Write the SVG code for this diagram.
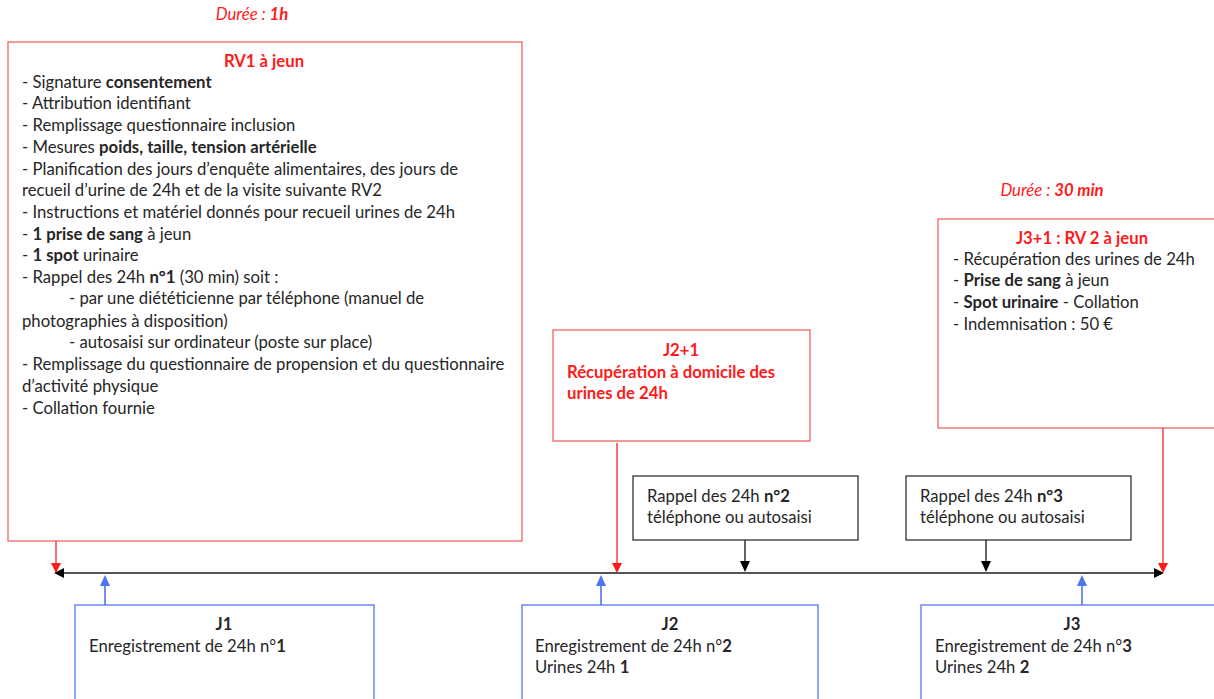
<svg xmlns="http://www.w3.org/2000/svg" width="1214" height="699" viewBox="0 0 1214 699">
<defs>
<style>
text{font-family:Lato,"Open Sans","DejaVu Sans",sans-serif;font-size:16.7px;fill:#262626}
.b{font-weight:bold}
.r{fill:#ff1a1a}
.rt{fill:#ff1a1a;font-weight:bold}
.it{font-style:italic}
.c{text-anchor:middle}
.rbox{fill:#fff;stroke:#f06464;stroke-width:1.3}
.kbox{fill:#fff;stroke:#222;stroke-width:1.2}
.bbox{fill:#fff;stroke:#5577ee;stroke-width:1.3}
.lr{stroke:#ff2020;stroke-width:1.3;fill:none}
.lk{stroke:#111;stroke-width:1.3;fill:none}
.lb{stroke:#4f74f0;stroke-width:1.6;fill:none}
</style>
</defs>

<g id="duree1"><text x="252" y="20" class="r it c">Durée : <tspan class="b">1h</tspan></text></g>

<g id="rv1">
<rect class="rbox" x="8" y="42" width="514" height="499"/>
<text x="264" y="67" class="rt c">RV1 à jeun</text>
<text x="22" y="88">- Signature <tspan class="b">consentement</tspan></text>
<text x="22" y="109">- Attribution identifiant</text>
<text x="22" y="131">- Remplissage questionnaire inclusion</text>
<text x="22" y="153">- Mesures <tspan class="b">poids, taille, tension artérielle</tspan></text>
<text x="22" y="175">- Planification des jours d’enquête alimentaires, des jours de</text>
<text x="22" y="196">recueil d’urine de 24h et de la visite suivante RV2</text>
<text x="22" y="218">- Instructions et matériel donnés pour recueil urines de 24h</text>
<text x="22" y="240">- <tspan class="b">1 prise de sang</tspan> à jeun</text>
<text x="22" y="261">- <tspan class="b">1 spot</tspan> urinaire</text>
<text x="22" y="283">- Rappel des 24h <tspan class="b">n°1</tspan> (30 min) soit :</text>
<text x="69" y="304">- par une diététicienne par téléphone (manuel de</text>
<text x="22" y="327">photographies à disposition)</text>
<text x="69" y="348">- autosaisi sur ordinateur (poste sur place)</text>
<text x="22" y="370">- Remplissage du questionnaire de propension et du questionnaire</text>
<text x="22" y="392">d’activité physique</text>
<text x="22" y="414">- Collation fournie</text>
</g>

<g id="j2p1">
<rect class="rbox" x="553" y="330" width="257" height="111"/>
<text x="681" y="356" class="rt c">J2+1</text>
<text x="567" y="378" class="rt">Récupération à domicile des</text>
<text x="567" y="399" class="rt">urines de 24h</text>
</g>

<g id="rappel2">
<rect class="kbox" x="633" y="476" width="225" height="64"/>
<text x="647" y="502">Rappel des 24h <tspan class="b">n°2</tspan></text>
<text x="647" y="523">téléphone ou autosaisi</text>
</g>

<g id="rappel3">
<rect class="kbox" x="906" y="476" width="225" height="64"/>
<text x="920" y="502">Rappel des 24h <tspan class="b">n°3</tspan></text>
<text x="920" y="523">téléphone ou autosaisi</text>
</g>

<g id="duree30"><text x="1052" y="196" class="r it c">Durée : <tspan class="b">30 min</tspan></text></g>

<g id="rv2">
<rect class="rbox" x="938" y="219" width="290" height="209"/>
<text x="1082" y="244" class="rt c">J3+1 : RV 2 à jeun</text>
<text x="953" y="265">- Récupération des urines de 24h</text>
<text x="953" y="286">- <tspan class="b">Prise de sang</tspan> à jeun</text>
<text x="953" y="308">- <tspan class="b">Spot urinaire</tspan> - Collation</text>
<text x="953" y="330">- Indemnisation : 50 €</text>
</g>

<g id="j1">
<rect class="bbox" x="75" y="605" width="299" height="110"/>
<text x="224" y="630" class="b c">J1</text>
<text x="89" y="652">Enregistrement de 24h n°<tspan class="b">1</tspan></text>
</g>

<g id="j2">
<rect class="bbox" x="522" y="605" width="296" height="110"/>
<text x="670" y="630" class="b c">J2</text>
<text x="535" y="652">Enregistrement de 24h n°<tspan class="b">2</tspan></text>
<text x="535" y="673">Urines 24h <tspan class="b">1</tspan></text>
</g>

<g id="j3">
<rect class="bbox" x="921" y="605" width="310" height="110"/>
<text x="1072" y="630" class="b c">J3</text>
<text x="935" y="652">Enregistrement de 24h n°<tspan class="b">3</tspan></text>
<text x="935" y="673">Urines 24h <tspan class="b">2</tspan></text>
</g>

<g id="connectors">
<line x1="62" y1="573" x2="1156" y2="573" stroke="#555" stroke-width="2"/>
<path d="M54,573 L64,568 L64,578 z" fill="#000"/>
<path d="M1164,573 L1154,568 L1154,578 z" fill="#000"/>
<line class="lr" x1="56" y1="541" x2="56" y2="563"/>
<path d="M51,563 L61,563 L56,573 z" fill="#ff1a1a"/>
<line class="lr" x1="617" y1="443" x2="617" y2="563"/>
<path d="M612,563 L622,563 L617,573 z" fill="#ff1a1a"/>
<line class="lr" x1="1163" y1="428" x2="1163" y2="563"/>
<path d="M1158,563 L1168,563 L1163,573 z" fill="#ff1a1a"/>
<line class="lk" x1="745" y1="540" x2="745" y2="563"/>
<path d="M740,561 L750,561 L745,572 z" fill="#000"/>
<line class="lk" x1="986" y1="540" x2="986" y2="563"/>
<path d="M981,561 L991,561 L986,572 z" fill="#000"/>
<line class="lb" x1="105" y1="605" x2="105" y2="585"/>
<path d="M100,586 L110,586 L105,575 z" fill="#4f74f0"/>
<line class="lb" x1="601" y1="605" x2="601" y2="585"/>
<path d="M596,586 L606,586 L601,575 z" fill="#4f74f0"/>
<line class="lb" x1="1082" y1="605" x2="1082" y2="585"/>
<path d="M1077,586 L1087,586 L1082,575 z" fill="#4f74f0"/>
</g>
</svg>
